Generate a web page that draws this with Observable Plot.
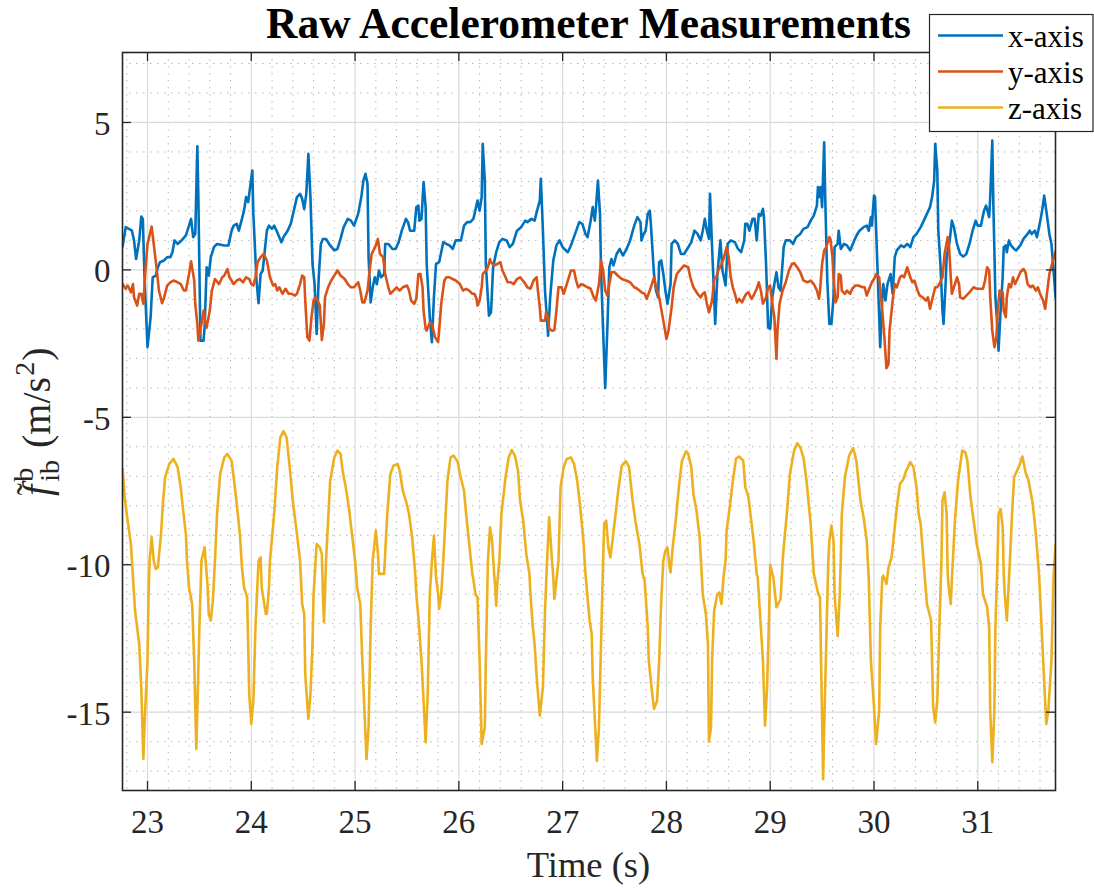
<!DOCTYPE html>
<html><head><meta charset="utf-8">
<script src="https://cdn.jsdelivr.net/npm/d3@7"></script>
<script src="https://cdn.jsdelivr.net/npm/@observablehq/plot@0.6"></script>
<style>
body{margin:0;background:#fff}
svg{overflow:visible}
#chart svg text{font-family:'Liberation Serif','Times New Roman',Times,serif}
</style>
</head><body><div id="chart"></div>
<script>
const seriesNames = ["x-axis", "y-axis", "z-axis"];
const seriesColors = ["#0072BD", "#D95319", "#EDB120"];
const xTicks = [23, 24, 25, 26, 27, 28, 29, 30, 31];
const yTicks = [-15, -10, -5, 0, 5];
const xMinor = [22.8, 23.2, 23.4, 23.6, 23.8, 24.2, 24.4, 24.6, 24.8, 25.2, 25.4, 25.6, 25.8, 26.2, 26.4, 26.6, 26.8, 27.2, 27.4, 27.6, 27.8, 28.2, 28.4, 28.6, 28.8, 29.2, 29.4, 29.6, 29.8, 30.2, 30.4, 30.6, 30.8, 31.2, 31.4, 31.6];
const yMinor = [-17, -16, -14, -13, -12, -11, -9, -8, -7, -6, -4, -3, -2, -1, 1, 2, 3, 4, 6, 7];

// [time (s), value (m/s^2)]
const accelX = [[22.76,0.79],[22.79,1.45],[22.82,1.39],[22.85,1.33],[22.87,1.0],[22.89,0.37],[22.92,1.0],[22.94,1.81],[22.955,1.73],[22.97,-0.14],[23.0,-2.62],[23.03,-1.6],[23.05,-0.25],[23.08,-0.19],[23.1,0.09],[23.12,0.26],[23.16,0.32],[23.19,0.43],[23.22,0.43],[23.24,0.6],[23.26,1.0],[23.29,0.88],[23.32,0.97],[23.37,1.17],[23.4,1.5],[23.42,1.73],[23.44,1.11],[23.46,1.22],[23.48,4.19],[23.49,2.47],[23.51,-2.4],[23.54,-2.4],[23.55,-1.95],[23.57,0.09],[23.59,-0.19],[23.61,0.43],[23.64,0.77],[23.67,0.88],[23.74,0.83],[23.78,0.83],[23.81,1.33],[23.83,1.5],[23.86,1.56],[23.88,1.33],[23.91,1.73],[23.93,2.01],[23.95,2.47],[23.97,2.3],[23.98,2.58],[24.01,3.37],[24.02,1.9],[24.05,-0.36],[24.07,-1.13],[24.09,-0.14],[24.11,-0.02],[24.15,1.33],[24.17,1.5],[24.2,1.39],[24.22,1.5],[24.25,1.28],[24.29,0.94],[24.31,1.11],[24.35,1.33],[24.38,1.56],[24.41,2.01],[24.44,2.47],[24.47,2.58],[24.49,2.41],[24.51,2.07],[24.53,2.58],[24.55,3.94],[24.57,2.47],[24.59,0.2],[24.61,-0.48],[24.63,-2.17],[24.64,-1.15],[24.65,-0.25],[24.67,0.88],[24.69,1.05],[24.72,1.05],[24.76,0.83],[24.8,0.66],[24.83,0.71],[24.86,1.05],[24.89,1.45],[24.93,1.73],[24.96,1.67],[24.99,1.5],[25.03,1.9],[25.06,2.47],[25.08,3.03],[25.1,3.26],[25.12,2.92],[25.13,0.43],[25.15,-1.1],[25.17,-0.59],[25.19,-0.25],[25.21,-0.48],[25.23,-0.02],[25.25,-0.25],[25.28,-0.14],[25.29,0.88],[25.32,0.88],[25.36,0.71],[25.39,0.71],[25.42,0.94],[25.45,1.33],[25.49,1.73],[25.51,1.62],[25.53,1.33],[25.57,1.33],[25.59,2.13],[25.61,2.18],[25.62,1.67],[25.64,1.73],[25.66,2.98],[25.68,2.13],[25.69,0.2],[25.72,-1.6],[25.74,-2.45],[25.76,-0.9],[25.78,0.2],[25.81,0.26],[25.85,0.94],[25.88,0.88],[25.91,0.83],[25.94,0.71],[25.97,1.0],[26.02,1.0],[26.05,1.5],[26.08,1.62],[26.11,1.62],[26.14,1.73],[26.18,2.35],[26.2,2.01],[26.22,2.47],[26.23,4.28],[26.25,3.03],[26.26,0.2],[26.29,-1.55],[26.31,-1.44],[26.33,0.09],[26.36,0.6],[26.39,0.94],[26.42,1.05],[26.46,1.0],[26.49,0.77],[26.52,0.88],[26.56,1.33],[26.6,1.45],[26.64,1.67],[26.66,1.62],[26.7,1.73],[26.73,1.67],[26.75,1.96],[26.78,2.35],[26.79,3.09],[26.81,1.33],[26.83,-0.7],[26.86,-2.23],[26.88,-0.93],[26.91,0.32],[26.94,0.83],[26.97,1.0],[27.0,0.77],[27.05,0.6],[27.08,0.83],[27.12,1.22],[27.16,1.62],[27.19,1.56],[27.22,1.22],[27.24,1.11],[27.27,1.67],[27.29,2.13],[27.31,1.67],[27.32,2.07],[27.34,3.03],[27.36,1.9],[27.37,-0.02],[27.39,-2.06],[27.41,-4.0],[27.43,-2.06],[27.45,0.09],[27.47,0.37],[27.49,0.15],[27.52,0.54],[27.55,0.71],[27.58,0.49],[27.61,0.66],[27.65,1.0],[27.69,1.5],[27.72,1.79],[27.75,1.62],[27.76,1.0],[27.78,1.22],[27.8,1.33],[27.82,1.9],[27.84,2.01],[27.85,1.56],[27.88,-0.14],[27.9,-0.7],[27.92,-0.93],[27.93,0.26],[27.95,0.32],[27.97,-0.14],[27.99,-0.7],[28.01,-1.15],[28.04,-0.48],[28.05,0.88],[28.08,1.0],[28.11,0.88],[28.14,0.54],[28.17,0.54],[28.2,0.71],[28.24,0.94],[28.27,1.33],[28.3,1.22],[28.33,1.0],[28.35,1.33],[28.37,1.73],[28.39,1.33],[28.41,1.05],[28.42,2.58],[28.44,0.77],[28.46,-0.93],[28.47,-1.83],[28.49,-0.25],[28.5,0.2],[28.52,1.0],[28.54,-0.02],[28.57,-0.53],[28.59,0.88],[28.62,1.0],[28.66,0.94],[28.69,0.71],[28.72,0.6],[28.75,1.0],[28.76,1.56],[28.78,1.56],[28.8,1.33],[28.83,1.73],[28.85,1.73],[28.87,1.0],[28.89,1.9],[28.91,1.84],[28.93,2.07],[28.94,1.79],[28.96,0.2],[28.98,-1.95],[29.0,-2.0],[29.02,-0.93],[29.04,-0.48],[29.06,-0.08],[29.08,-0.59],[29.1,-0.7],[29.13,0.77],[29.15,1.0],[29.19,1.0],[29.22,0.88],[29.25,1.11],[29.29,1.22],[29.32,1.39],[29.36,1.45],[29.39,1.67],[29.42,1.84],[29.45,2.18],[29.46,2.81],[29.47,2.47],[29.485,2.81],[29.5,2.13],[29.52,4.33],[29.53,2.47],[29.55,-0.36],[29.57,-1.83],[29.59,-1.83],[29.61,-0.93],[29.62,0.77],[29.65,0.88],[29.66,1.33],[29.68,0.71],[29.71,0.88],[29.74,0.83],[29.77,0.66],[29.81,1.0],[29.84,1.22],[29.86,1.33],[29.9,1.45],[29.93,1.5],[29.95,1.33],[29.97,1.79],[29.98,1.5],[30.0,2.52],[30.01,2.47],[30.03,0.43],[30.05,-1.6],[30.06,-2.62],[30.08,-0.93],[30.09,-0.48],[30.11,-1.04],[30.13,-0.48],[30.16,-0.14],[30.18,-0.81],[30.2,0.43],[30.22,0.66],[30.26,0.83],[30.29,0.77],[30.32,0.88],[30.35,0.77],[30.38,1.11],[30.41,1.22],[30.45,1.45],[30.48,1.67],[30.51,1.9],[30.54,2.13],[30.56,2.47],[30.58,3.03],[30.59,4.28],[30.61,3.37],[30.62,1.33],[30.64,0.2],[30.66,-1.38],[30.67,-1.83],[30.69,-0.48],[30.7,0.43],[30.73,1.0],[30.75,1.67],[30.77,1.45],[30.8,0.88],[30.83,0.54],[30.86,0.45],[30.89,0.54],[30.92,0.88],[30.95,1.33],[30.98,1.67],[31.0,1.5],[31.03,1.5],[31.06,2.01],[31.08,2.18],[31.11,1.79],[31.12,2.47],[31.14,4.39],[31.15,2.24],[31.17,-0.93],[31.19,-1.95],[31.2,-2.74],[31.22,-1.38],[31.24,-0.25],[31.25,0.77],[31.27,0.83],[31.28,0.6],[31.3,1.0],[31.32,0.83],[31.35,0.71],[31.37,0.66],[31.41,0.83],[31.44,1.05],[31.48,1.22],[31.5,1.33],[31.52,1.22],[31.55,1.33],[31.57,1.11],[31.6,1.62],[31.62,2.01],[31.64,2.52],[31.66,2.01],[31.69,1.22],[31.71,0.88],[31.73,-0.02],[31.75,-0.93]];

const accelY = [[22.76,-0.48],[22.79,-0.64],[22.81,-0.53],[22.84,-0.76],[22.86,-0.48],[22.87,-0.93],[22.9,-1.21],[22.92,-0.81],[22.94,-0.81],[22.96,-1.15],[22.98,-0.02],[23.0,0.88],[23.04,1.47],[23.06,0.88],[23.09,-0.02],[23.11,-0.7],[23.14,-1.13],[23.16,-0.93],[23.19,-0.53],[23.22,-0.42],[23.25,-0.36],[23.29,-0.42],[23.32,-0.48],[23.35,-0.7],[23.37,-0.7],[23.4,-0.14],[23.42,0.29],[23.45,-0.36],[23.46,-1.15],[23.48,-1.83],[23.49,-2.4],[23.52,-1.83],[23.54,-1.38],[23.56,-1.83],[23.57,-1.95],[23.6,-1.38],[23.62,-0.7],[23.65,-0.31],[23.69,-0.48],[23.72,-0.25],[23.74,-0.19],[23.77,0.03],[23.79,-0.25],[23.83,-0.48],[23.86,-0.36],[23.89,-0.31],[23.92,-0.42],[23.95,-0.25],[23.98,-0.31],[24.0,-0.48],[24.02,-0.53],[24.04,-0.25],[24.06,0.26],[24.09,0.43],[24.12,0.54],[24.15,0.32],[24.18,-0.25],[24.21,-0.53],[24.23,-0.48],[24.25,-0.7],[24.27,-0.59],[24.3,-0.81],[24.33,-0.64],[24.36,-0.81],[24.39,-0.81],[24.42,-0.87],[24.44,-0.81],[24.47,-0.48],[24.49,-0.19],[24.51,-0.25],[24.52,-1.04],[24.54,-2.28],[24.56,-2.4],[24.58,-1.6],[24.6,-1.04],[24.62,-0.93],[24.64,-1.04],[24.66,-1.21],[24.68,-2.38],[24.7,-1.83],[24.71,-0.93],[24.74,-0.59],[24.77,-0.36],[24.8,-0.19],[24.83,-0.02],[24.86,-0.19],[24.9,-0.31],[24.93,-0.48],[24.96,-0.59],[24.99,-0.59],[25.03,-0.42],[25.05,-0.7],[25.07,-1.1],[25.09,-1.1],[25.12,-0.7],[25.14,-0.02],[25.16,0.54],[25.2,0.83],[25.22,1.05],[25.24,0.54],[25.27,0.43],[25.29,-0.14],[25.32,-0.59],[25.34,-0.81],[25.37,-0.7],[25.4,-0.59],[25.43,-0.7],[25.46,-0.59],[25.5,-0.53],[25.52,-0.7],[25.54,-1.04],[25.57,-1.15],[25.59,-0.98],[25.61,-0.14],[25.63,-0.14],[25.65,-0.59],[25.66,-1.38],[25.68,-2.0],[25.69,-2.06],[25.72,-1.78],[25.74,-1.83],[25.77,-2.28],[25.8,-2.45],[25.81,-2.06],[25.83,-1.15],[25.86,-0.36],[25.88,-0.25],[25.91,-0.25],[25.94,-0.31],[25.97,-0.36],[26.01,-0.48],[26.04,-0.7],[26.07,-0.64],[26.1,-0.7],[26.13,-0.81],[26.15,-0.81],[26.17,-0.98],[26.18,-1.21],[26.2,-1.04],[26.22,-0.59],[26.23,-0.14],[26.26,-0.02],[26.28,0.09],[26.3,0.37],[26.31,0.26],[26.34,0.15],[26.37,0.2],[26.4,0.26],[26.42,-0.02],[26.45,-0.25],[26.47,-0.42],[26.5,-0.42],[26.53,-0.48],[26.56,-0.31],[26.59,-0.25],[26.63,-0.42],[26.66,-0.59],[26.69,-0.64],[26.72,-0.36],[26.75,-0.25],[26.76,-0.64],[26.78,-1.27],[26.79,-1.72],[26.83,-1.72],[26.84,-1.44],[26.86,-1.61],[26.87,-2.0],[26.9,-2.06],[26.92,-2.04],[26.94,-1.38],[26.96,-0.59],[26.99,-0.59],[27.01,-0.81],[27.03,-0.59],[27.06,-0.25],[27.08,-0.02],[27.11,-0.02],[27.13,-0.36],[27.15,-0.59],[27.18,-0.48],[27.21,-0.53],[27.24,-0.59],[27.27,-0.64],[27.3,-0.93],[27.32,-1.04],[27.35,-0.48],[27.37,0.32],[27.39,-0.02],[27.41,-0.7],[27.43,-0.87],[27.45,-0.48],[27.47,-0.08],[27.5,-0.08],[27.53,-0.19],[27.57,-0.31],[27.61,-0.36],[27.65,-0.42],[27.69,-0.59],[27.72,-0.64],[27.76,-0.76],[27.79,-0.81],[27.81,-0.98],[27.84,-0.7],[27.86,-0.48],[27.88,-0.25],[27.9,-0.59],[27.93,-0.93],[27.97,-1.72],[28.0,-2.34],[28.02,-2.06],[28.05,-1.27],[28.07,-0.59],[28.1,-0.14],[28.14,0.03],[28.17,0.15],[28.21,0.09],[28.23,-0.25],[28.26,-0.59],[28.3,-0.81],[28.33,-0.93],[28.35,-0.81],[28.37,-0.76],[28.39,-1.15],[28.41,-1.44],[28.44,-1.04],[28.46,-0.31],[28.48,-0.25],[28.5,-0.02],[28.53,0.2],[28.55,0.37],[28.58,0.77],[28.6,0.43],[28.62,-0.25],[28.64,-0.59],[28.66,-0.81],[28.68,-1.1],[28.7,-0.98],[28.73,-1.1],[28.75,-0.93],[28.77,-0.81],[28.79,-0.76],[28.82,-0.98],[28.84,-0.87],[28.87,-0.64],[28.89,-0.42],[28.91,-0.7],[28.93,-1.15],[28.96,-0.93],[28.98,-0.59],[29.0,-0.53],[29.02,-1.15],[29.04,-1.6],[29.05,-2.28],[29.06,-3.02],[29.07,-2.06],[29.09,-1.15],[29.12,-0.7],[29.15,-0.42],[29.18,-0.02],[29.21,0.2],[29.23,0.23],[29.26,0.09],[29.29,-0.08],[29.32,-0.36],[29.36,-0.42],[29.39,-0.36],[29.42,-0.48],[29.45,-0.7],[29.47,-0.98],[29.48,-0.7],[29.5,0.2],[29.52,0.66],[29.54,0.77],[29.57,1.11],[29.58,1.05],[29.6,0.43],[29.61,-0.25],[29.63,-1.1],[29.65,-0.93],[29.66,-0.14],[29.68,-0.19],[29.69,-0.7],[29.72,-0.81],[29.74,-0.7],[29.77,-0.81],[29.79,-0.64],[29.82,-0.53],[29.85,-0.53],[29.89,-0.59],[29.91,-0.59],[29.93,-0.87],[29.96,-0.59],[29.98,-0.42],[30.01,-0.25],[30.02,-0.14],[30.05,-0.25],[30.06,-0.64],[30.08,-1.38],[30.1,-2.28],[30.12,-3.33],[30.14,-3.19],[30.15,-2.06],[30.18,-1.04],[30.2,-0.48],[30.22,-0.59],[30.25,-0.25],[30.27,-0.19],[30.29,-0.25],[30.32,0.09],[30.35,-0.25],[30.37,-0.42],[30.39,-0.36],[30.42,-0.7],[30.44,-0.87],[30.47,-0.93],[30.5,-1.04],[30.52,-0.93],[30.54,-1.32],[30.57,-0.87],[30.59,-0.59],[30.61,-0.59],[30.63,-0.48],[30.66,-0.25],[30.68,0.54],[30.71,1.11],[30.72,1.0],[30.74,-0.25],[30.75,-0.81],[30.77,-0.59],[30.8,-0.25],[30.82,-0.48],[30.83,-0.93],[30.86,-0.98],[30.89,-0.87],[30.92,-0.76],[30.96,-0.59],[30.99,-0.64],[31.02,-0.64],[31.05,-0.64],[31.07,-0.36],[31.09,0.09],[31.11,-0.02],[31.12,-0.93],[31.14,-2.06],[31.16,-2.62],[31.18,-2.28],[31.19,-1.49],[31.21,-0.7],[31.24,-0.76],[31.25,-1.38],[31.27,-1.6],[31.28,-0.93],[31.3,-0.48],[31.32,-0.59],[31.34,-0.25],[31.36,-0.48],[31.39,-0.25],[31.41,-0.08],[31.44,0.03],[31.46,-0.08],[31.48,-0.48],[31.51,-0.59],[31.53,-0.53],[31.56,-0.7],[31.58,-0.59],[31.6,-0.81],[31.63,-1.04],[31.65,-1.32],[31.67,-0.7],[31.69,-0.14],[31.72,0.26],[31.75,0.63]];

const accelZ = [[22.76,-6.75],[22.78,-7.71],[22.8,-8.28],[22.84,-9.3],[22.85,-9.86],[22.88,-11.56],[22.92,-12.69],[22.94,-14.16],[22.96,-16.59],[22.97,-15.51],[23.0,-13.25],[23.01,-11.0],[23.02,-9.86],[23.04,-9.07],[23.06,-9.86],[23.08,-10.14],[23.1,-10.09],[23.13,-8.96],[23.15,-7.83],[23.17,-7.03],[23.21,-6.58],[23.25,-6.41],[23.29,-6.69],[23.32,-7.37],[23.34,-8.05],[23.37,-8.96],[23.38,-9.86],[23.39,-10.31],[23.4,-10.77],[23.43,-11.33],[23.45,-13.25],[23.47,-16.25],[23.48,-14.95],[23.5,-12.12],[23.52,-9.86],[23.55,-9.41],[23.57,-10.31],[23.58,-10.77],[23.59,-11.67],[23.61,-11.89],[23.63,-11.22],[23.65,-9.86],[23.67,-8.28],[23.7,-6.92],[23.74,-6.36],[23.77,-6.24],[23.81,-6.47],[23.83,-7.03],[23.86,-7.94],[23.89,-8.96],[23.91,-10.09],[23.93,-10.77],[23.96,-11.11],[23.98,-14.38],[24.0,-15.4],[24.02,-14.61],[24.04,-12.12],[24.07,-9.86],[24.09,-9.75],[24.1,-10.77],[24.14,-11.67],[24.15,-11.67],[24.17,-10.77],[24.18,-9.86],[24.22,-8.28],[24.25,-6.69],[24.28,-5.68],[24.31,-5.47],[24.34,-5.68],[24.37,-6.69],[24.4,-7.83],[24.44,-8.96],[24.47,-9.86],[24.49,-11.33],[24.51,-11.67],[24.52,-13.71],[24.55,-15.23],[24.57,-14.38],[24.59,-12.69],[24.6,-11.0],[24.62,-9.86],[24.63,-9.3],[24.66,-9.41],[24.68,-9.64],[24.69,-11.0],[24.7,-11.95],[24.71,-11.0],[24.72,-9.86],[24.76,-7.15],[24.8,-6.36],[24.83,-6.13],[24.86,-6.24],[24.88,-6.81],[24.91,-7.37],[24.94,-8.05],[24.97,-8.96],[25.0,-9.86],[25.02,-10.77],[25.05,-11.33],[25.07,-13.25],[25.11,-16.59],[25.13,-15.51],[25.15,-12.12],[25.17,-9.86],[25.2,-8.84],[25.22,-9.6],[25.23,-10.31],[25.28,-10.31],[25.31,-8.28],[25.34,-6.92],[25.37,-6.64],[25.41,-6.58],[25.43,-6.81],[25.46,-7.49],[25.49,-7.83],[25.52,-8.28],[25.55,-9.07],[25.58,-10.31],[25.59,-11.0],[25.61,-11.78],[25.64,-13.25],[25.68,-16.02],[25.7,-14.38],[25.72,-11.0],[25.74,-9.86],[25.76,-9.01],[25.77,-9.75],[25.78,-10.43],[25.8,-11.0],[25.81,-11.5],[25.83,-11.0],[25.85,-9.86],[25.89,-7.15],[25.92,-6.36],[25.95,-6.3],[25.99,-6.52],[26.01,-6.92],[26.05,-7.49],[26.07,-8.28],[26.09,-8.96],[26.13,-10.31],[26.14,-10.5],[26.16,-11.0],[26.18,-11.11],[26.2,-13.25],[26.22,-16.08],[26.25,-15.51],[26.26,-13.25],[26.28,-9.86],[26.3,-8.73],[26.32,-9.18],[26.34,-10.31],[26.35,-10.77],[26.36,-11.39],[26.37,-10.65],[26.39,-9.86],[26.41,-8.28],[26.45,-7.03],[26.48,-6.36],[26.51,-6.11],[26.54,-6.3],[26.57,-6.81],[26.59,-7.83],[26.62,-8.5],[26.65,-9.64],[26.68,-10.31],[26.69,-11.0],[26.71,-12.01],[26.73,-12.69],[26.75,-13.82],[26.78,-15.12],[26.81,-14.16],[26.83,-11.56],[26.85,-9.86],[26.87,-8.39],[26.88,-8.96],[26.9,-9.97],[26.91,-10.43],[26.92,-11.16],[26.94,-10.54],[26.96,-9.86],[26.98,-7.37],[27.01,-6.69],[27.04,-6.41],[27.08,-6.36],[27.11,-6.58],[27.14,-7.15],[27.17,-8.05],[27.2,-9.18],[27.22,-10.31],[27.24,-11.11],[27.26,-11.89],[27.28,-12.35],[27.29,-13.82],[27.33,-16.65],[27.35,-15.51],[27.37,-12.69],[27.39,-9.86],[27.4,-8.62],[27.42,-8.5],[27.44,-9.41],[27.46,-9.75],[27.48,-9.18],[27.51,-8.28],[27.54,-7.37],[27.57,-6.64],[27.61,-6.49],[27.64,-6.69],[27.67,-7.71],[27.7,-8.5],[27.74,-9.3],[27.77,-10.31],[27.79,-10.54],[27.82,-12.12],[27.83,-13.25],[27.86,-14.27],[27.88,-14.89],[27.91,-14.61],[27.93,-13.25],[27.95,-11.22],[27.97,-9.86],[27.99,-9.52],[28.01,-9.41],[28.03,-10.09],[28.04,-10.26],[28.06,-9.41],[28.09,-8.5],[28.12,-7.37],[28.15,-6.47],[28.19,-6.15],[28.21,-6.24],[28.24,-6.69],[28.26,-7.6],[28.29,-8.17],[28.32,-9.07],[28.34,-10.31],[28.35,-11.0],[28.38,-11.67],[28.4,-12.69],[28.41,-16.0],[28.43,-15.51],[28.44,-13.25],[28.46,-11.56],[28.49,-11.0],[28.51,-10.94],[28.53,-11.33],[28.55,-10.43],[28.57,-9.86],[28.58,-8.84],[28.61,-8.05],[28.64,-7.15],[28.67,-6.41],[28.7,-6.33],[28.74,-6.47],[28.76,-7.37],[28.79,-7.71],[28.81,-8.28],[28.84,-9.18],[28.87,-10.31],[28.88,-10.43],[28.9,-11.56],[28.93,-13.25],[28.95,-15.46],[28.97,-14.16],[28.99,-11.56],[29.0,-10.0],[29.03,-10.43],[29.06,-11.44],[29.1,-11.16],[29.12,-9.86],[29.13,-9.41],[29.16,-8.28],[29.19,-6.92],[29.23,-6.13],[29.26,-5.88],[29.29,-6.02],[29.32,-6.36],[29.35,-7.15],[29.39,-8.62],[29.4,-9.18],[29.42,-10.31],[29.46,-10.94],[29.48,-11.11],[29.49,-13.25],[29.51,-17.27],[29.52,-15.51],[29.54,-12.69],[29.56,-9.86],[29.57,-9.18],[29.59,-8.67],[29.61,-9.18],[29.62,-11.0],[29.65,-12.41],[29.67,-11.0],[29.68,-9.86],[29.69,-8.28],[29.72,-7.03],[29.76,-6.3],[29.8,-6.04],[29.83,-6.47],[29.85,-7.15],[29.87,-7.83],[29.9,-8.39],[29.93,-9.18],[29.95,-10.5],[29.97,-13.25],[30.0,-14.8],[30.02,-16.08],[30.05,-14.95],[30.06,-12.12],[30.08,-10.43],[30.09,-10.37],[30.12,-10.65],[30.14,-10.09],[30.16,-9.86],[30.17,-9.75],[30.2,-8.73],[30.22,-8.05],[30.25,-7.26],[30.28,-7.12],[30.31,-6.81],[30.35,-6.52],[30.38,-6.69],[30.41,-7.37],[30.43,-8.28],[30.45,-8.62],[30.48,-10.0],[30.51,-11.33],[30.55,-11.89],[30.57,-14.8],[30.59,-15.35],[30.61,-14.61],[30.63,-12.12],[30.65,-9.86],[30.66,-7.83],[30.68,-7.54],[30.7,-8.28],[30.71,-10.31],[30.72,-10.77],[30.74,-11.33],[30.75,-10.54],[30.76,-9.86],[30.78,-8.5],[30.81,-7.15],[30.85,-6.13],[30.88,-6.19],[30.9,-6.47],[30.93,-7.71],[30.96,-8.5],[30.99,-9.3],[31.03,-9.97],[31.05,-11.0],[31.09,-11.44],[31.11,-12.12],[31.12,-14.95],[31.14,-16.7],[31.16,-14.95],[31.17,-12.12],[31.19,-9.86],[31.2,-8.28],[31.22,-8.11],[31.24,-8.73],[31.25,-10.31],[31.26,-11.0],[31.28,-11.89],[31.3,-10.54],[31.31,-9.86],[31.33,-8.28],[31.35,-7.03],[31.4,-6.64],[31.43,-6.33],[31.46,-6.86],[31.49,-7.15],[31.53,-7.94],[31.56,-8.96],[31.59,-10.31],[31.6,-11.0],[31.63,-13.25],[31.66,-15.4],[31.68,-14.95],[31.71,-13.25],[31.73,-10.43],[31.74,-9.86],[31.75,-9.3]];

const series = [accelX, accelY, accelZ];
const FONT = "'Liberation Serif','Times New Roman',Times,serif";
const INK = "#262626";

const lineMarks = series.map((s, i) =>
  Plot.line(s, {x: d => d[0], y: d => d[1], stroke: seriesColors[i], strokeWidth: 2.6, strokeLinejoin: "round", clip: true})
);

const chart = Plot.plot({
  width: 1094, height: 888,
  marginLeft: 122, marginRight: 39, marginTop: 52, marginBottom: 98,
  style: {fontFamily: FONT, color: INK, background: "white", overflow: "visible"},
  x: {domain: [22.759, 31.749]},
  y: {domain: [-17.656, 7.373]},
  marks: [
    Plot.gridX(xMinor, {stroke: "#9a9a9a", strokeOpacity: 0.7, strokeWidth: 1, strokeDasharray: "1.5,5.5"}),
    Plot.gridY(yMinor, {stroke: "#9a9a9a", strokeOpacity: 0.7, strokeWidth: 1, strokeDasharray: "1.5,5.5"}),
    Plot.gridX(xTicks, {stroke: "#dadada", strokeOpacity: 1, strokeWidth: 1.2}),
    Plot.gridY(yTicks, {stroke: "#dadada", strokeOpacity: 1, strokeWidth: 1.2}),
    ...lineMarks,
    Plot.frame({stroke: INK, strokeWidth: 1.6}),
    Plot.tickX(xTicks, {x: d => d, insetTop: 729, stroke: INK, strokeWidth: 1.3}),
    Plot.tickX(xTicks, {x: d => d, insetBottom: 729, stroke: INK, strokeWidth: 1.3}),
    Plot.tickY(yTicks, {y: d => d, insetRight: 924, stroke: INK, strokeWidth: 1.3}),
    Plot.tickY(yTicks, {y: d => d, insetLeft: 924, stroke: INK, strokeWidth: 1.3}),
    Plot.axisX(xTicks, {tickSize: 0, tickPadding: 19, fontSize: 33, fontFamily: FONT, tickFormat: d => String(d), label: null}),
    Plot.axisY(yTicks, {tickSize: 0, tickPadding: 12, fontSize: 33, fontFamily: FONT, tickFormat: d => String(d), label: null, dy: 2})
  ]
});
document.getElementById("chart").appendChild(chart);

const svg = d3.select(chart);
// title
svg.append("text").attr("x", 588.5).attr("y", 37.5).attr("text-anchor", "middle")
  .attr("font-size", 43.5).attr("font-weight", "bold").attr("fill", "#000")
  .text("Raw Accelerometer Measurements");
// x label
svg.append("text").attr("x", 588.5).attr("y", 876.5).attr("text-anchor", "middle")
  .attr("font-size", 36.5).attr("fill", INK).text("Time (s)");

// y label (rotated): f~_ib^b (m/s^2)
const Fs = 40;
const g = svg.append("g").attr("fill", INK).attr("text-anchor", "start");
let cx = 0;
const put = (txt, x, y, size, italic) => {
  const t = g.append("text").attr("x", x).attr("y", y).attr("font-size", size)
    .attr("text-anchor", "start").attr("font-style", italic ? "italic" : "normal").text(txt);
  return t.node().getComputedTextLength();
};
const wf = put("f", 0, 0, Fs, true);
g.append("text").attr("x", wf * 0.6).attr("y", -Fs * 0.2).attr("text-anchor", "middle")
  .attr("font-size", Fs * 0.9).text("\u02DC");
cx = wf + 3;
const wb = put("b", cx, -Fs * 0.42, Fs * 0.7, false);
const wib = put("ib", cx, Fs * 0.22, Fs * 0.7, false);
cx += Math.max(wb, wib) + Fs * 0.3;
cx += put("(m/s", cx, 0, Fs, false);
cx += 1;
cx += put("2", cx, -Fs * 0.4, Fs * 0.7, false);
cx += 1;
cx += put(")", cx, 0, Fs, false);
g.attr("transform", `translate(50,${421.7 + cx / 2}) rotate(-90)`);

// legend
const lg = svg.append("g").attr("text-anchor", "start");
lg.append("rect").attr("x", 929.5).attr("y", 14.5).attr("width", 163.5).attr("height", 117)
  .attr("fill", "white").attr("stroke", INK).attr("stroke-width", 1.2);
seriesNames.forEach((name, i) => {
  const base = 46.5 + i * 36;
  lg.append("line").attr("x1", 938).attr("x2", 1003).attr("y1", base - 11).attr("y2", base - 11)
    .attr("stroke", seriesColors[i]).attr("stroke-width", 2.6);
  lg.append("text").attr("x", 1008).attr("y", base).attr("text-anchor", "start")
    .attr("font-size", 31).attr("fill", "#000").text(name);
});
</script></body></html>
